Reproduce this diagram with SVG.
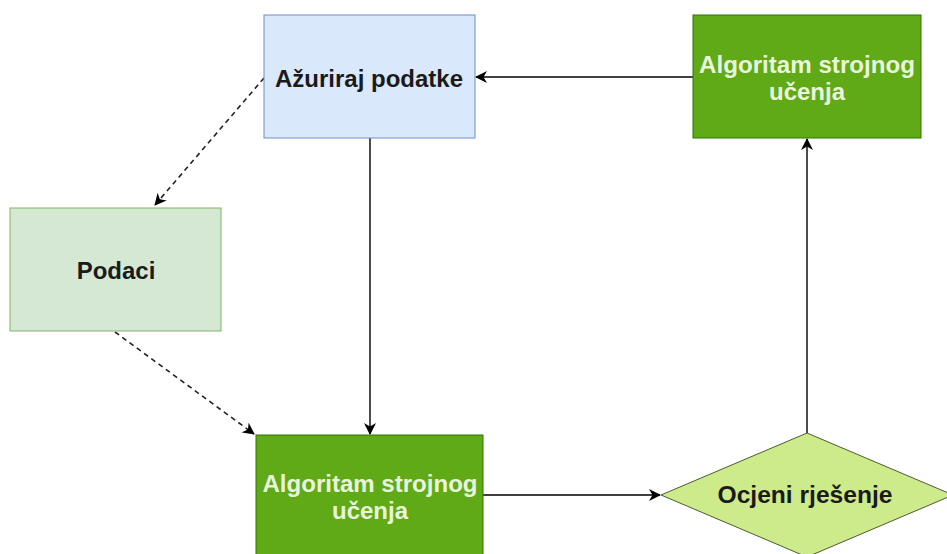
<svg xmlns="http://www.w3.org/2000/svg" width="947" height="554" viewBox="0 0 947 554">
<defs>
<marker id="arr" viewBox="0 0 12 12" refX="11" refY="6" markerWidth="12" markerHeight="12" markerUnits="userSpaceOnUse" orient="auto">
<path d="M0,0 L12,6 L0,12 L3.5,6 Z" fill="#000"/>
</marker>
</defs>
<style>
.lbl{font-family:"Liberation Sans",Arial,sans-serif;font-weight:bold;text-anchor:middle}
.dark{fill:#1a1a1a}
.light{fill:#eaf6dc}
.edge{fill:none;stroke:#000;stroke-width:1.4}
.dash{stroke-dasharray:5,4;stroke:#222;stroke-width:1.6}
</style>
<rect width="947" height="554" fill="#fff"/>
<g id="connectors">
<path class="edge" d="M693,77 L476,77" marker-end="url(#arr)"/>
<path class="edge" d="M370,138 L370,434" marker-end="url(#arr)"/>
<path class="edge dash" d="M264,78 L155,205" marker-end="url(#arr)"/>
<path class="edge dash" d="M115,332 L254,434" marker-end="url(#arr)"/>
<path class="edge" d="M483,495 L660,495" marker-end="url(#arr)"/>
<path class="edge" d="M807,433 L807,139" marker-end="url(#arr)"/>
</g>
<g id="azuriraj">
<rect x="264" y="15" width="211" height="123" fill="#dae8fc" stroke="#6c8ebf" stroke-width="1"/>
<text class="lbl dark" x="369" y="87" font-size="23" textLength="188" lengthAdjust="spacingAndGlyphs">Ažuriraj podatke</text>
</g>
<g id="algoritam-top">
<rect x="693" y="15" width="228" height="123" fill="#60a917" stroke="#2d7600" stroke-width="1"/>
<text class="lbl light" x="807" y="73" font-size="24" textLength="216" lengthAdjust="spacingAndGlyphs">Algoritam strojnog</text>
<text class="lbl light" x="807" y="100" font-size="24">učenja</text>
</g>
<g id="podaci">
<rect x="10" y="208" width="211" height="123" fill="#d5e8d4" stroke="#82b366" stroke-width="1"/>
<text class="lbl dark" x="116" y="279" font-size="24">Podaci</text>
</g>
<g id="algoritam-bottom">
<rect x="256" y="435" width="227" height="130" fill="#60a917" stroke="#2d7600" stroke-width="1"/>
<text class="lbl light" x="370" y="492" font-size="24" textLength="215" lengthAdjust="spacingAndGlyphs">Algoritam strojnog</text>
<text class="lbl light" x="370" y="519" font-size="24">učenja</text>
</g>
<g id="ocjeni">
<path d="M661,495 L807,433 L953,495 L807,557 Z" fill="#cdeb8b" stroke="#4d5a2f" stroke-width="1"/>
<text class="lbl dark" x="805" y="503" font-size="23" textLength="175" lengthAdjust="spacingAndGlyphs">Ocjeni rješenje</text>
</g>
</svg>
